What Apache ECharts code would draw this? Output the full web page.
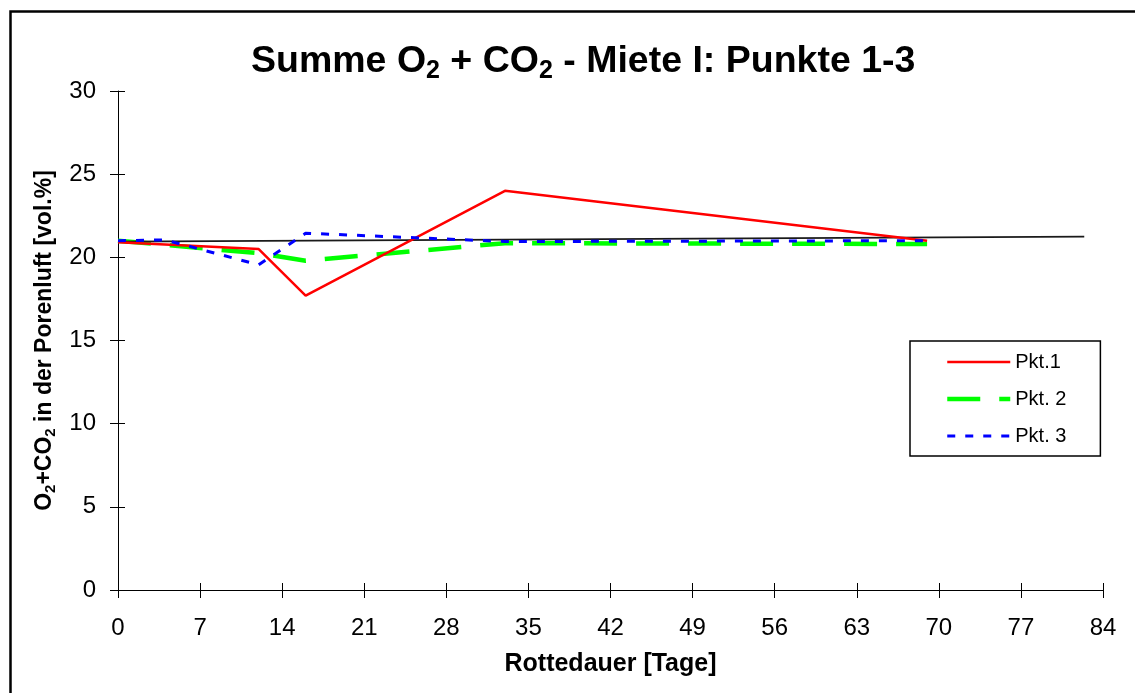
<!DOCTYPE html>
<html>
<head>
<meta charset="utf-8">
<script src="https://cdn.jsdelivr.net/npm/echarts@6/dist/echarts.min.js"></script>
<style>
    html, body { margin: 0; padding: 0; background: #fff; }
    #chart { width: 1135px; height: 693px; }
</style>
</head>
<body>
<div id="chart"></div>
<script>
    var tage1 = [0, 12, 16, 33, 69];
    var pkt1 = [20.9, 20.5, 17.7, 24.0, 21.0];
    var tage2 = [0, 12, 16, 33, 69];
    var pkt2 = [21.0, 20.25, 19.8, 20.85, 20.8];
    var tage3 = [0, 4, 12, 16, 33, 69];
    var pkt3 = [21.0, 21.05, 19.55, 21.45, 20.95, 21.0];
    var trendTage = [0, 82.4];
    var trendWerte = [20.95, 21.25];
    var seriesNamen = ['Pkt.1', 'Pkt. 2', 'Pkt. 3'];
    var xTicks = [0, 84, 7];   // min, max, interval
    var yTicks = [0, 30, 5];

    function pairs(xs, ys) {
        var out = [];
        for (var i = 0; i < xs.length; i++) out.push([xs[i], ys[i]]);
        return out;
    }

    var font = 'Liberation Sans, Arial, sans-serif';
    var myChart = echarts.init(document.getElementById('chart'));

    function xAx(main) {
        return {
            type: 'value', position: 'bottom',
            min: xTicks[0], max: xTicks[1], interval: xTicks[2],
            name: main ? 'Rottedauer [Tage]' : '',
            nameLocation: 'middle', nameGap: 62,
            nameTextStyle: { fontFamily: font, fontSize: 25, fontWeight: 'bold', color: '#000' },
            axisLine: { show: main, lineStyle: { color: '#000', width: 1 } },
            axisTick: { show: true, inside: !main, length: main ? 8 : 7, lineStyle: { color: '#000' } },
            axisLabel: { show: main, margin: 26, fontFamily: font, fontSize: 24, color: '#000' },
            splitLine: { show: false }
        };
    }
    function yAx(main) {
        return {
            type: 'value', position: 'left',
            min: yTicks[0], max: yTicks[1], interval: yTicks[2],
            name: main ? '{a|O}{s|2}{a|+CO}{s|2}{a| in der Porenluft [vol.%]}' : '',
            nameLocation: 'middle', nameGap: 57,
            nameTextStyle: {
                color: '#000',
                rich: {
                    a: { fontFamily: font, fontSize: 23, fontWeight: 'bold', lineHeight: 27, color: '#000' },
                    s: { fontFamily: font, fontSize: 15, fontWeight: 'bold', lineHeight: 15, verticalAlign: 'bottom', color: '#000' }
                }
            },
            axisLine: { show: main, lineStyle: { color: '#000', width: 1 } },
            axisTick: { show: true, inside: !main, length: main ? 8 : 7, lineStyle: { color: '#000' } },
            axisLabel: { show: main, margin: 22, fontFamily: font, fontSize: 24, color: '#000' },
            splitLine: { show: false }
        };
    }

    var option = {
        animation: false,
        backgroundColor: '#fff',
        graphic: [{
            type: 'rect', left: 8, top: 9,
            shape: { width: 1300, height: 900 },
            style: { fill: 'none', stroke: '#000', lineWidth: 2.5 }
        }],
        title: {
            text: '{a|Summe O}{s|2}{a| + CO}{s|2}{a| - Miete I: Punkte 1-3}',
            left: 246,
            top: 35,
            textStyle: {
                rich: {
                    a: { fontFamily: font, fontSize: 37.5, fontWeight: 'bold', lineHeight: 44, color: '#000' },
                    s: { fontFamily: font, fontSize: 25, fontWeight: 'bold', lineHeight: 24, verticalAlign: 'bottom', color: '#000' }
                }
            }
        },
        legend: {
            data: [
                { name: seriesNamen[0], lineStyle: { width: 2.5 } },
                { name: seriesNamen[1], lineStyle: { width: 4.5 } },
                { name: seriesNamen[2], lineStyle: { width: 3 } }
            ],
            orient: 'vertical',
            left: 910,
            top: 341,
            padding: [11, 34, 10, 35],
            itemWidth: 63,
            itemHeight: 14,
            itemGap: 17,
            borderColor: '#000',
            borderWidth: 1.5,
            itemStyle: { opacity: 0 },
            textStyle: { fontFamily: font, fontSize: 20, color: '#000' }
        },
        grid: {
            left: 118,
            right: 32,
            top: 91,
            bottom: 103
        },
        xAxis: [xAx(true), xAx(false)],
        yAxis: [yAx(true), yAx(false)],
        series: [{
                name: 'Pkt. 2',
                type: 'line',
                symbol: 'none',
                z: 2,
                lineStyle: { color: '#00ff00', width: 4.5, type: [33, 19] },
                itemStyle: { color: '#00ff00' },
                data: pairs(tage2, pkt2)
            },
            {
                name: 'Trend',
                type: 'line',
                symbol: 'none',
                z: 3,
                lineStyle: { color: '#1a1a1a', width: 1.8 },
                data: pairs(trendTage, trendWerte)
            },
            {
                name: 'Pkt.1',
                type: 'line',
                symbol: 'none',
                z: 4,
                lineStyle: { color: '#ff0000', width: 2.5 },
                itemStyle: { color: '#ff0000' },
                data: pairs(tage1, pkt1)
            },
            {
                name: 'Pkt. 3',
                type: 'line',
                symbol: 'none',
                z: 5,
                lineStyle: { color: '#0000ff', width: 3, type: [8, 10] },
                itemStyle: { color: '#0000ff' },
                data: pairs(tage3, pkt3)
            }
        ]
    };

    myChart.setOption(option);
</script>
</body>
</html>
